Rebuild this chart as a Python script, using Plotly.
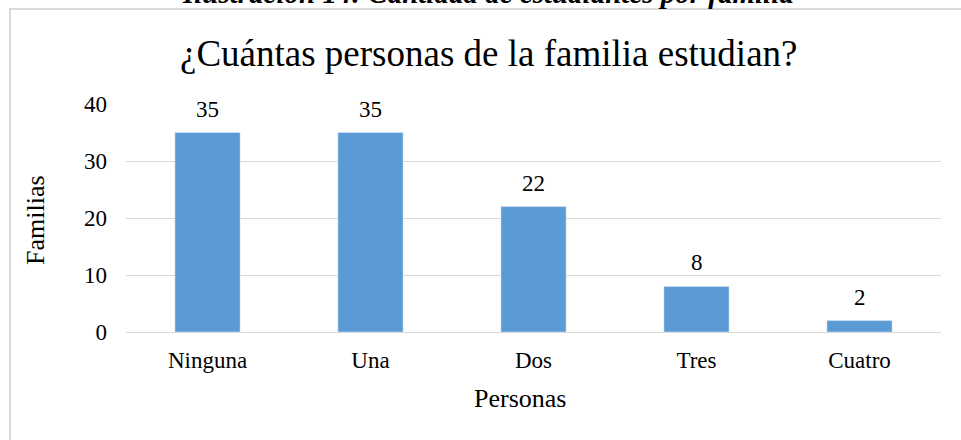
import plotly.graph_objects as go

categories = ["Ninguna", "Una", "Dos", "Tres", "Cuatro"]
families = [35, 35, 22, 8, 2]
y_ticks = [0, 10, 20, 30, 40]

title_text = "¿Cuántas personas de la familia estudian?"
caption_text = "Ilustración 14: Cantidad de estudiantes por familia"
x_title = "Personas"
y_title = "Familias"

FONT = "Liberation Serif, Times New Roman, serif"

L, R, T, B = 126, 20, 104, 108
W, H = 961, 440
pw, ph = W - L - R, H - T - B

def px_x(x):
    return (x - L) / pw

def px_y(y):
    return (H - B - y) / ph

fig = go.Figure(
    go.Bar(
        x=categories,
        y=families,
        marker_color="#5b9bd5",
        width=0.4,
        hoverinfo="x+y",
    )
)

value_labels = [
    dict(
        x=c, y=v, xref="x", yref="y", text=str(v),
        xanchor="center", yanchor="bottom", yshift=9,
        showarrow=False, font=dict(size=23),
    )
    for c, v in zip(categories, families)
]

fig.update_layout(
    width=W,
    height=H,
    margin=dict(l=L, r=R, t=T, b=B),
    paper_bgcolor="white",
    plot_bgcolor="white",
    font=dict(family=FONT, color="#000"),
    showlegend=False,
    xaxis=dict(
        automargin=False,
        showgrid=False,
        showline=True,
        linecolor="#d9d9d9",
        linewidth=1,
        ticks="",
        ticklabelstandoff=7,
        tickfont=dict(size=23),
    ),
    yaxis=dict(
        automargin=False,
        range=[0, 40],
        tickvals=y_ticks,
        showgrid=True,
        gridcolor="#d9d9d9",
        zeroline=False,
        showline=False,
        ticks="",
        ticklabelstandoff=18,
        tickfont=dict(size=23),
    ),
    annotations=value_labels + [
        dict(
            text=title_text, xref="paper", yref="paper",
            x=px_x(488), y=px_y(53), xanchor="center", yanchor="middle",
            showarrow=False, font=dict(size=37),
        ),
        dict(
            text="<b><i>" + caption_text + "</i></b>", xref="paper", yref="paper",
            x=px_x(488), y=px_y(11), xanchor="center", yanchor="bottom",
            showarrow=False, font=dict(size=29),
        ),
        dict(
            text=x_title, xref="paper", yref="paper",
            x=px_x(520), y=px_y(398), xanchor="center", yanchor="middle",
            showarrow=False, font=dict(size=26),
        ),
        dict(
            text=y_title, xref="paper", yref="paper", textangle=-90,
            x=px_x(35), y=px_y(220), xanchor="center", yanchor="middle",
            showarrow=False, font=dict(size=26),
        ),
    ],
    shapes=[
        dict(type="rect", xref="paper", yref="paper",
             x0=px_x(10), x1=px_x(980), y0=px_y(460), y1=px_y(9),
             line=dict(color="#d9d9d9", width=2), layer="below"),
    ],
)

fig.write_html(
    "out.html",
    config={"displayModeBar": False},
    post_script="document.body.style.margin='0';document.body.style.overflow='hidden';",
)
